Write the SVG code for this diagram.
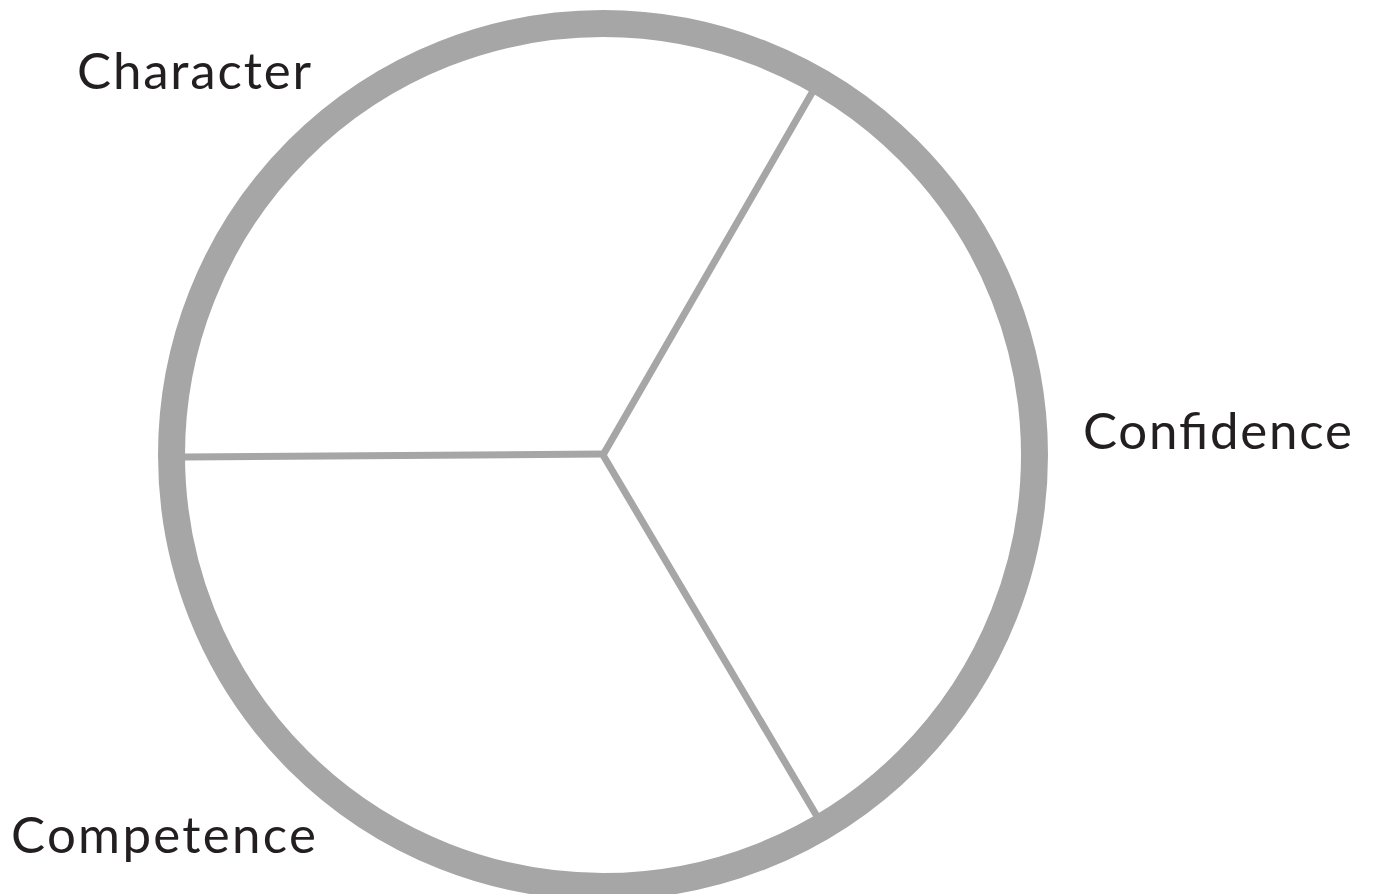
<svg xmlns="http://www.w3.org/2000/svg" width="1373" height="894" viewBox="0 0 1373 894">
<style>
.ring{fill:none;stroke:#a6a6a6;stroke-width:27}
.spoke{stroke:#a6a6a6;stroke-width:7;fill:none;stroke-linecap:butt}
.lbl{font-family:Lato,"Liberation Sans",sans-serif;font-size:51px;fill:#231f20}
</style>
<rect width="1373" height="894" fill="#ffffff"/>
<g id="circle"><circle class="ring" cx="603" cy="455" r="431.5"/></g>
<g id="connectors">
<line class="spoke" x1="603" y1="455" x2="813" y2="91"/>
<line class="spoke" x1="603" y1="455" x2="818" y2="818"/>
<line class="spoke" x1="603" y1="454" x2="184" y2="457"/>
</g>
<g id="character"><text class="lbl" x="77" y="89" textLength="234" lengthAdjust="spacing">Character</text></g>
<g id="confidence"><text class="lbl" x="1083" y="449" textLength="269" lengthAdjust="spacing">Confidence</text></g>
<g id="competence"><text class="lbl" x="11" y="853" textLength="305" lengthAdjust="spacing">Competence</text></g>
</svg>
